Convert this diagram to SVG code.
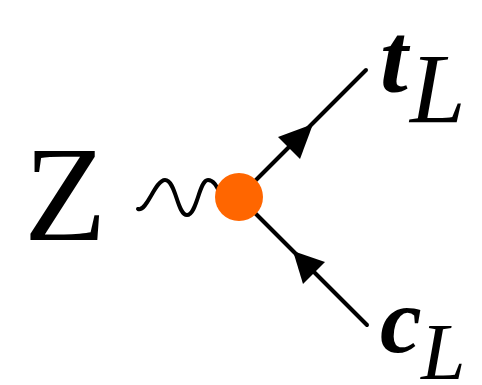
<svg xmlns="http://www.w3.org/2000/svg" width="482" height="385" viewBox="0 0 482 385">
<style>
.ln{stroke:#000;stroke-width:4;fill:none;stroke-linecap:round}
.ah{fill:#000}
</style>
<rect width="482" height="385" fill="#fff"/>
<g id="connectors">
<path class="ln" d="M138,209 C147,212 155,180 165,180 C176,180 177,215 187,215 C197,215 199,180 208,180 C215,180 218,190 222,197"/>
<line class="ln" x1="239" y1="197" x2="366" y2="70"/>
<polygon class="ah" points="313,124 278,137 300,159"/>
<line class="ln" x1="239" y1="197" x2="367" y2="325"/>
<polygon class="ah" points="293,251 325,262 303,284"/>
</g>
<g id="vertex"><circle cx="239" cy="197" r="24" fill="#FF6600"/></g>
<g id="Z"><text font-family="Liberation Serif" x="24" y="240" font-size="135">Z</text></g>
<g id="tL"><text font-family="Liberation Serif" x="380" y="92" font-size="100" font-weight="bold" font-style="italic">t</text><text font-family="Liberation Serif" x="410" y="122" font-size="100" font-style="italic">L</text></g>
<g id="cL"><text font-family="Liberation Serif" x="380" y="352" font-size="94" font-weight="bold" font-style="italic">c</text><text font-family="Liberation Serif" x="421" y="379" font-size="80" font-style="italic">L</text></g>
</svg>
